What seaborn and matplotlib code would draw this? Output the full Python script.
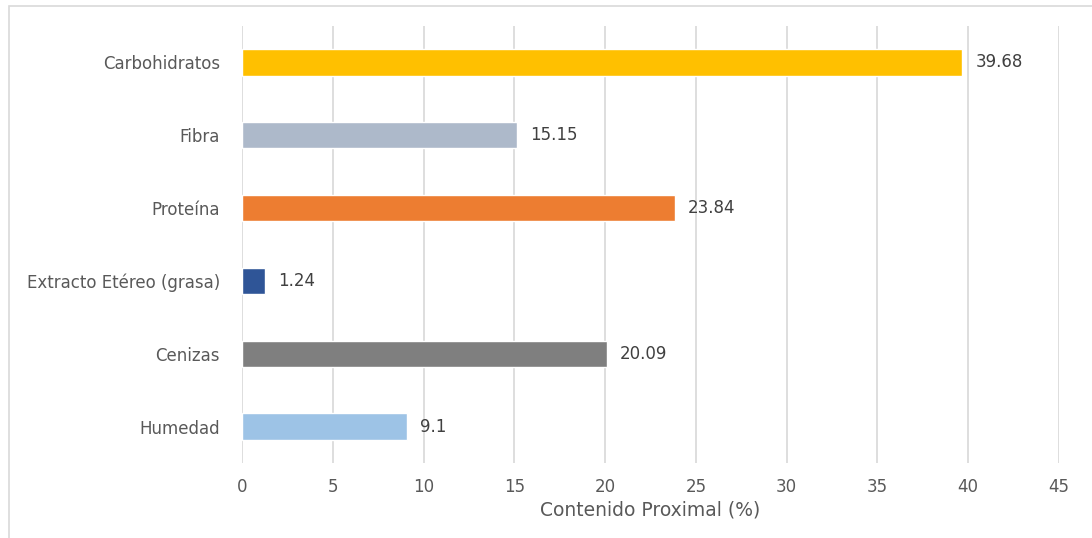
import matplotlib
matplotlib.use("Agg")
import matplotlib.pyplot as plt
import seaborn as sns
import pandas as pd
from matplotlib.patches import Rectangle

categories = ["Carbohidratos", "Fibra", "Proteína", "Extracto Etéreo (grasa)", "Cenizas", "Humedad"]
values = [39.68, 15.15, 23.84, 1.24, 20.09, 9.1]
colors = ["#FFC000", "#ADB9CA", "#ED7D31", "#2F5597", "#7F7F7F", "#9DC3E6"]
x_ticks = [0, 5, 10, 15, 20, 25, 30, 35, 40, 45]
x_label = "Contenido Proximal (%)"

sns.set_theme(style="white")
plt.rcParams["font.family"] = ["DejaVu Sans"]

text_color = "#595959"
df = pd.DataFrame({"categoria": categories, "valor": values})

fig = plt.figure(figsize=(10.92, 5.38), dpi=100)
ax = fig.add_axes([242 / 1092, 1 - 463 / 538, (1059 - 242) / 1092, (463 - 26) / 538])

sns.barplot(data=df, x="valor", y="categoria", hue="categoria", palette=colors,
            order=categories, legend=False, width=0.36, saturation=1, ax=ax)

ax.set_xlim(0, 45)
ax.set_ylim(5.5, -0.5)
ax.set_xticks(x_ticks)
ax.set_xticklabels([str(t) for t in x_ticks])
ax.grid(axis="x", color="#DEDEDE", linewidth=1.4)
ax.set_axisbelow(True)
for s in ax.spines.values():
    s.set_visible(False)
ax.tick_params(axis="both", length=0, colors=text_color, labelsize=12)
ax.tick_params(axis="x", pad=11)
ax.tick_params(axis="y", pad=16)
ax.set_ylabel("")
ax.set_xlabel(x_label, color=text_color, fontsize=13.5, labelpad=3)

for i, v in enumerate(values):
    ax.annotate(f"{v:g}", xy=(v, i), xytext=(9.5, 0), textcoords="offset points",
                va="center", ha="left", fontsize=12, color="#404040")

# outer frame of the chart area
fig.patches.append(Rectangle((9 / 1092, -0.1), 1.2, 1 - 6 / 538 + 0.1,
                             transform=fig.transFigure, fill=False,
                             edgecolor="#D9D9D9", linewidth=1.2))

fig.savefig("out.png", dpi=100)
